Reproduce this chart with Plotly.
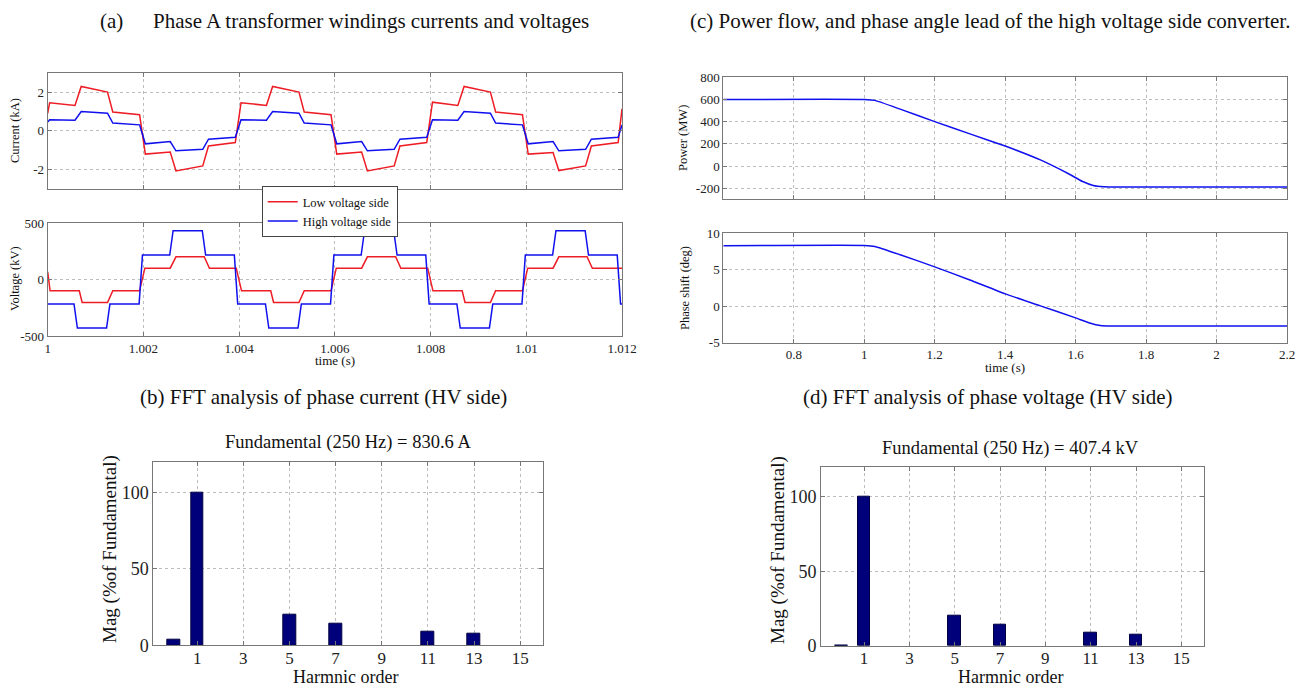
import plotly.graph_objects as go

# ---------------- (a) transformer winding currents / voltages ----------------
# time in ms after t = 1 s
cur_t_ms = [0.00, 0.04, 0.57, 0.70, 1.25, 1.36, 1.92, 2.04, 2.56, 2.68, 3.24, 3.36, 3.92,
            4.04, 4.57, 4.70, 5.25, 5.36, 5.92, 6.04, 6.56, 6.68, 7.24, 7.36, 7.92,
            8.04, 8.57, 8.70, 9.25, 9.36, 9.92, 10.04, 10.56, 10.68, 11.24, 11.36, 11.92, 12.00]
cur_lv_kA = [0.90, 1.45, 1.31, 2.29, 2.00, 0.97, 0.83, -1.20, -1.09, -2.07, -1.81, -0.78, -0.60,
             1.45, 1.31, 2.29, 2.00, 0.97, 0.83, -1.20, -1.09, -2.07, -1.81, -0.78, -0.60,
             1.48, 1.31, 2.29, 2.00, 0.97, 0.83, -1.20, -1.12, -2.05, -1.81, -0.78, -0.60, 1.14]
cur_hv_kA = [0.45, 0.57, 0.55, 1.00, 0.91, 0.40, 0.31, -0.67, -0.55, -1.03, -0.95, -0.43, -0.33,
             0.57, 0.55, 1.00, 0.91, 0.40, 0.31, -0.67, -0.55, -1.03, -0.95, -0.43, -0.33,
             0.57, 0.55, 1.00, 0.91, 0.40, 0.31, -0.67, -0.55, -1.03, -0.95, -0.43, -0.33, 0.30]

vlv_t_ms = [0.00, 0.05, 0.66, 0.72, 1.25, 1.36, 1.92, 2.03, 2.56, 2.68, 3.27, 3.38, 3.94,
            4.05, 4.66, 4.72, 5.25, 5.36, 5.92, 6.03, 6.56, 6.68, 7.27, 7.38, 7.94,
            8.05, 8.66, 8.72, 9.25, 9.36, 9.92, 10.03, 10.56, 10.68, 11.27, 11.38, 12.00]
vlv_kV = [68, -100, -100, -204, -204, -100, -100, 100, 100, 201, 201, 100, 100,
          -100, -100, -204, -204, -100, -100, 100, 100, 201, 201, 100, 100,
          -100, -100, -204, -204, -100, -100, 100, 100, 201, 201, 100, 100]

vhv_t_ms = [0.00, 0.55, 0.62, 1.23, 1.30, 1.91, 1.98, 2.55, 2.62, 3.23, 3.30, 3.90, 3.97,
            4.55, 4.62, 5.23, 5.30, 5.91, 5.98, 6.55, 6.62, 7.23, 7.30, 7.90, 7.97,
            8.55, 8.62, 9.23, 9.30, 9.91, 9.98, 10.55, 10.62, 11.23, 11.30, 11.90, 11.97, 12.00]
vhv_kV = [-216, -216, -430, -430, -216, -216, 216, 216, 432, 432, 216, 216, -216,
          -216, -430, -430, -216, -216, 216, 216, 432, 432, 216, 216, -216,
          -216, -430, -430, -216, -216, 216, 216, 432, 432, 216, 216, -216, -216]

a_xticks = [1.000, 1.002, 1.004, 1.006, 1.008, 1.010, 1.012]
a_xticklabels = ["1", "1.002", "1.004", "1.006", "1.008", "1.01", "1.012"]

# ---------------- (c) power flow and phase shift ----------------
pow_t = [0.6, 1.00, 1.03, 1.10, 1.20, 1.30, 1.40, 1.50, 1.58, 1.62, 1.65, 1.68, 1.72, 2.2]
pow_MW = [600, 600, 592, 515, 400, 290, 180, 55, -70, -140, -175, -187, -190, -190]
ph_t = [0.6, 1.00, 1.03, 1.10, 1.20, 1.30, 1.40, 1.50, 1.60, 1.64, 1.67, 1.70, 2.2]
ph_deg = [8.3, 8.33, 8.2, 7.1, 5.4, 3.6, 1.7, 0.05, -1.6, -2.3, -2.65, -2.72, -2.72]
c_xticks = [0.8, 1.0, 1.2, 1.4, 1.6, 1.8, 2.0, 2.2]
c_xticklabels = ["0.8", "1", "1.2", "1.4", "1.6", "1.8", "2", "2.2"]

# ---------------- (b)/(d) FFT ----------------
harm_order = [0, 1, 5, 7, 11, 13]
fft_cur_pct = [3.8, 100, 20, 14.3, 9.1, 7.7]
fft_volt_pct = [0.5, 100, 20, 14.3, 9.1, 7.7]
fft_xticks = [1, 3, 5, 7, 9, 11, 13, 15]

FONT = "Liberation Serif"
RED = "#ee1c24"
BLUE = "#1010ee"
NAVY = "#00007a"
LINEC = "#777777"
GRIDC = "#bdbdbd"

# the page body adds an 8 px offset; lay out in page pixels
OFF = 8
W, H = 1307 - OFF, 691 - OFF


def px_x(a, b):
    return [(a - OFF) / W, (b - OFF) / W]


def px_y(top, bottom):
    return [1 - (bottom - OFF) / H, 1 - (top - OFF) / H]


fig = go.Figure()

ta = [1 + v / 1000 for v in cur_t_ms]
fig.add_trace(go.Scatter(x=ta, y=cur_lv_kA, mode="lines", line=dict(color=RED, width=1.5),
                         name="Low voltage side", xaxis="x", yaxis="y"))
fig.add_trace(go.Scatter(x=ta, y=cur_hv_kA, mode="lines", line=dict(color=BLUE, width=1.5),
                         name="High voltage side", xaxis="x", yaxis="y"))
fig.add_trace(go.Scatter(x=[1 + v / 1000 for v in vlv_t_ms], y=vlv_kV, mode="lines",
                         line=dict(color=RED, width=1.5), showlegend=False, xaxis="x2", yaxis="y2"))
fig.add_trace(go.Scatter(x=[1 + v / 1000 for v in vhv_t_ms], y=vhv_kV, mode="lines",
                         line=dict(color=BLUE, width=1.5), showlegend=False, xaxis="x2", yaxis="y2"))

fig.add_trace(go.Scatter(x=pow_t, y=pow_MW, mode="lines",
                         line=dict(color=BLUE, width=1.5, shape="spline", smoothing=0.4),
                         showlegend=False, xaxis="x3", yaxis="y3"))
fig.add_trace(go.Scatter(x=ph_t, y=ph_deg, mode="lines",
                         line=dict(color=BLUE, width=1.5, shape="spline", smoothing=0.4),
                         showlegend=False, xaxis="x4", yaxis="y4"))

fig.add_trace(go.Bar(x=harm_order, y=fft_cur_pct, width=0.55,
                     marker=dict(color=NAVY, line=dict(color="#000040", width=1)),
                     showlegend=False, xaxis="x5", yaxis="y5"))
fig.add_trace(go.Bar(x=harm_order, y=fft_volt_pct, width=0.55,
                     marker=dict(color=NAVY, line=dict(color="#000040", width=1)),
                     showlegend=False, xaxis="x6", yaxis="y6"))


def ax(domain, rng, tickvals, ticktext, show_labels=True, size=13, anchor=None, standoff=0):
    d = dict(domain=domain, range=rng, tickvals=tickvals, ticktext=ticktext,
             showticklabels=show_labels, showline=True, linecolor=LINEC, linewidth=1,
             mirror="ticks", ticks="inside", ticklen=4, tickcolor=LINEC,
             showgrid=True, gridcolor=GRIDC, griddash="dot", gridwidth=1, zeroline=False,
             automargin=False, ticklabelstandoff=standoff,
             tickfont=dict(family=FONT, size=size, color="#222222"))
    if anchor:
        d["anchor"] = anchor
    return d


xa_dom = px_x(47.7, 622)
xc_dom = px_x(723.3, 1287)
layout = dict(
    width=W, height=H, margin=dict(l=0, r=0, t=0, b=0, pad=0, autoexpand=False),
    paper_bgcolor="white", plot_bgcolor="white",
    showlegend=True, bargap=0,
    xaxis=ax(xa_dom, [1.0, 1.012], a_xticks, a_xticklabels, show_labels=False, anchor="y"),
    yaxis=ax(px_y(72.7, 189), [-3, 3], [-2, 0, 2], ["-2", "0", "2"], anchor="x"),
    xaxis2=ax(xa_dom, [1.0, 1.012], a_xticks, a_xticklabels, anchor="y2"),
    yaxis2=ax(px_y(223, 336), [-500, 500], [-500, 0, 500], ["-500", "0", "500"], anchor="x2"),
    xaxis3=ax(xc_dom, [0.6, 2.2], c_xticks, c_xticklabels, show_labels=False, anchor="y3"),
    yaxis3=ax(px_y(77.3, 199.3), [-300, 800], [-200, 0, 200, 400, 600, 800],
              ["-200", "0", "200", "400", "600", "800"], anchor="x3"),
    xaxis4=ax(xc_dom, [0.6, 2.2], c_xticks, c_xticklabels, anchor="y4"),
    yaxis4=ax(px_y(233.3, 342.7), [-5, 10], [-5, 0, 5, 10], ["-5", "0", "5", "10"], anchor="x4"),
    xaxis5=ax(px_x(153.3, 543.3), [-0.9, 16], fft_xticks, [str(v) for v in fft_xticks], size=17,
              anchor="y5", standoff=-3),
    yaxis5=ax(px_y(461.7, 645.3), [0, 120], [0, 50, 100], ["0", "50", "100"], size=18, anchor="x5"),
    xaxis6=ax(px_x(821, 1204), [-0.9, 16], fft_xticks, [str(v) for v in fft_xticks], size=17,
              anchor="y6", standoff=-3),
    yaxis6=ax(px_y(466.7, 646), [0, 120], [0, 50, 100], ["0", "50", "100"], size=18, anchor="x6"),
    legend=dict(x=(261.7 - OFF) / W, y=1 - (186 - OFF) / H, xanchor="left", yanchor="top",
                bgcolor="white", bordercolor="#444444", borderwidth=1,
                font=dict(family=FONT, size=12.5, color="#111111"),
                tracegroupgap=0, itemwidth=30),
)
fig.update_layout(**layout)


def ann(text, x, y, size, angle=0, xanchor="center"):
    fig.add_annotation(text=text, x=(x - OFF) / W, y=1 - (y - OFF) / H, xref="paper", yref="paper",
                       showarrow=False, textangle=angle, xanchor=xanchor, yanchor="middle",
                       font=dict(family=FONT, size=size, color="#111111"))


# captions
ann("(a)", 111, 21, 21)
ann("Phase A transformer windings currents and voltages", 371, 21, 21)
ann("(c) Power flow, and phase angle lead of the high voltage side converter.", 990, 21, 21)
ann("(b) FFT analysis of phase current (HV side)", 323, 397, 21)
ann("(d) FFT analysis of phase voltage (HV side)", 988, 397, 21)

# axis titles (a)/(c)
ann("Current (kA)", 15, 131, 12.5, angle=-90)
ann("Voltage (kV)", 15, 279, 12.5, angle=-90)
ann("time (s)", 335, 360, 13)
ann("Power (MW)", 683, 138, 12.5, angle=-90)
ann("Phase shift (deg)", 685, 288, 12.5, angle=-90)
ann("time (s)", 1005, 367, 13)

# FFT titles
ann("Fundamental (250 Hz) = 830.6 A", 348, 442, 18.5)
ann("Fundamental (250 Hz) = 407.4 kV", 1010, 448, 18.5)
ann("Mag (%of Fundamental)", 110, 549, 19, angle=-90)
ann("Mag (%of Fundamental)", 778, 550, 19, angle=-90)
ann("Harmnic order", 345, 677, 18)
ann("Harmnic order", 1010, 677, 18)

fig.write_html("out.html")
